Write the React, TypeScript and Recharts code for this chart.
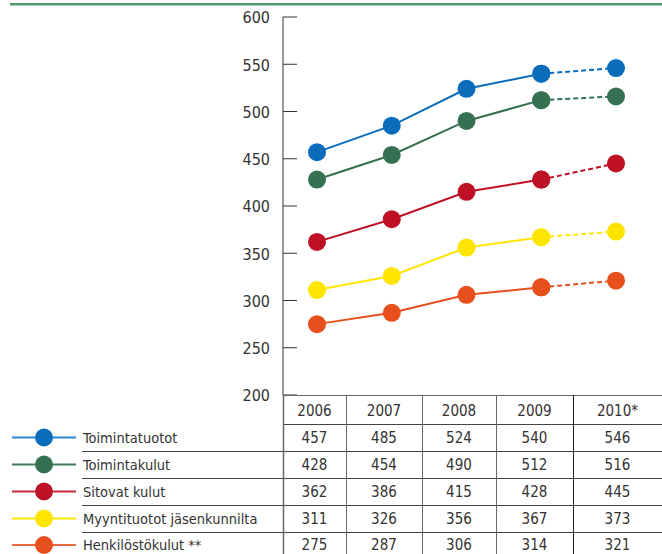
import { LineChart, Line, XAxis, YAxis } from "recharts";

const years = ["2006", "2007", "2008", "2009", "2010*"];
const seriesNames = [
  "Toimintatuotot",
  "Toimintakulut",
  "Sitovat kulut",
  "Myyntituotot jäsenkunnilta",
  "Henkilöstökulut **",
];
const toimintatuotot = [457, 485, 524, 540, 546];
const toimintakulut = [428, 454, 490, 512, 516];
const sitovatKulut = [362, 386, 415, 428, 445];
const myyntituotot = [311, 326, 356, 367, 373];
const henkilostokulut = [275, 287, 306, 314, 321];
const yTicks = [200, 250, 300, 350, 400, 450, 500, 550, 600];

const seriesValues = [toimintatuotot, toimintakulut, sitovatKulut, myyntituotot, henkilostokulut];
const colors = ["#0a6dbb", "#357150", "#bf1126", "#ffe500", "#e74f1c"];
const legendLineColors = ["#2f86cc", "#3f7b5b", "#c8283b", "#ffe600", "#ec6a3e"];

// last segment (2009 -> 2010*) is an estimate, drawn dashed
const lastActual = 3;
const data = years.map((year, i) => {
  const row: Record<string, string | number | null> = { year };
  seriesValues.forEach((vals, s) => {
    row[`s${s}`] = i <= lastActual ? vals[i] : null;
    row[`d${s}`] = i >= lastActual ? vals[i] : null;
  });
  return row;
});

const FONT = '"Liberation Sans Narrow", "DejaVu Sans Condensed", sans-serif';
const TEXT = "#333";

const colX = [283, 346, 422, 496, 573, 662];
const rowY = [395, 424, 451, 478, 505, 532, 559];

function YTick(props: any) {
  const { x, y, payload } = props;
  const axisX = x + 13;
  return (
    <g>
      <line x1={axisX} x2={axisX + 14} y1={y} y2={y} stroke="#333" strokeWidth={1} />
      <text x={x} y={y} dy="0.4em" textAnchor="end" fontSize={16} fill={TEXT} fontFamily={FONT}>
        {payload.value}
      </text>
    </g>
  );
}

function Table() {
  const top = rowY[0];
  return (
    <svg
      width={662}
      height={554 - top}
      style={{ position: "absolute", left: 0, top }}
      fontFamily={FONT}
    >
      <g transform={`translate(0, ${-top})`}>
        <line x1={colX[0]} x2={662} y1={rowY[0] + 0.5} y2={rowY[0] + 0.5} stroke="#666" />
        <line x1={colX[0]} x2={662} y1={rowY[1] + 0.5} y2={rowY[1] + 0.5} stroke="#444" />
        {rowY.slice(2, 6).map((y) => (
          <line key={y} x1={82} x2={662} y1={y + 0.5} y2={y + 0.5} stroke="#444" />
        ))}
        {colX.slice(0, 5).map((x, i) => (
          <line
            key={x}
            x1={x + 0.5}
            x2={x + 0.5}
            y1={rowY[0]}
            y2={554}
            stroke={i === 4 ? "#222" : "#666"}
            strokeWidth={i === 0 ? 1.5 : 1}
          />
        ))}
        {years.map((yr, c) => (
          <text
            key={yr}
            x={(colX[c] + colX[c + 1]) / 2}
            y={(rowY[0] + rowY[1]) / 2 + 1}
            dy="0.36em"
            textAnchor="middle"
            fontSize={15}
            fill={TEXT}
          >
            {yr}
          </text>
        ))}
        {seriesNames.map((name, r) => {
          const cy = Math.min((rowY[r + 1] + rowY[r + 2]) / 2, 545);
          return (
            <g key={name}>
              <line x1={12} x2={76} y1={cy} y2={cy} stroke={legendLineColors[r]} strokeWidth={2} />
              <circle cx={44} cy={cy} r={9} fill={colors[r]} />
              <text x={83} y={cy} dy="0.36em" fontSize={14.5} fill={TEXT}>
                {name}
              </text>
              {seriesValues[r].map((v, c) => (
                <text
                  key={c}
                  x={(colX[c] + colX[c + 1]) / 2}
                  y={cy}
                  dy="0.36em"
                  textAnchor="middle"
                  fontSize={15}
                  fill={TEXT}
                >
                  {v}
                </text>
              ))}
            </g>
          );
        })}
      </g>
    </svg>
  );
}

export default function App() {
  return (
    <div
      style={{
        position: "absolute",
        left: 0,
        top: 0,
        width: 662,
        height: 554,
        overflow: "hidden",
        background: "#fff",
        fontFamily: FONT,
      }}
    >
      <div style={{ position: "absolute", left: 10, top: 3, width: 652, height: 2, background: "#4e9a71" }} />
      <div style={{ position: "absolute", left: 10, top: 5, width: 652, height: 1, background: "#a3cdb6" }} />
      <div style={{ position: "absolute", left: 0, top: 0 }}>
        <LineChart width={662} height={420} data={data} margin={{ top: 17, right: 5, left: 0, bottom: 25 }}>
          <XAxis dataKey="year" hide padding={{ left: 34, right: 41 }} />
          <YAxis
            width={283}
            domain={[200, 600]}
            ticks={yTicks}
            interval={0}
            tickSize={0}
            tickMargin={13}
            tickLine={false}
            axisLine={{ stroke: "#777", strokeWidth: 1.5 }}
            tick={<YTick />}
          />
          {seriesValues.map((_, s) => (
            <Line
              key={`s${s}`}
              type="linear"
              dataKey={`s${s}`}
              stroke={colors[s]}
              strokeWidth={2}
              dot={{ r: 9, fill: colors[s], stroke: "none" }}
              activeDot={false}
              isAnimationActive={false}
            />
          ))}
          {seriesValues.map((_, s) => (
            <Line
              key={`d${s}`}
              type="linear"
              dataKey={`d${s}`}
              stroke={colors[s]}
              strokeWidth={2}
              strokeDasharray="5 3"
              dot={{ r: 9, fill: colors[s], stroke: "none" }}
              activeDot={false}
              isAnimationActive={false}
            />
          ))}
        </LineChart>
      </div>
      <Table />
    </div>
  );
}
